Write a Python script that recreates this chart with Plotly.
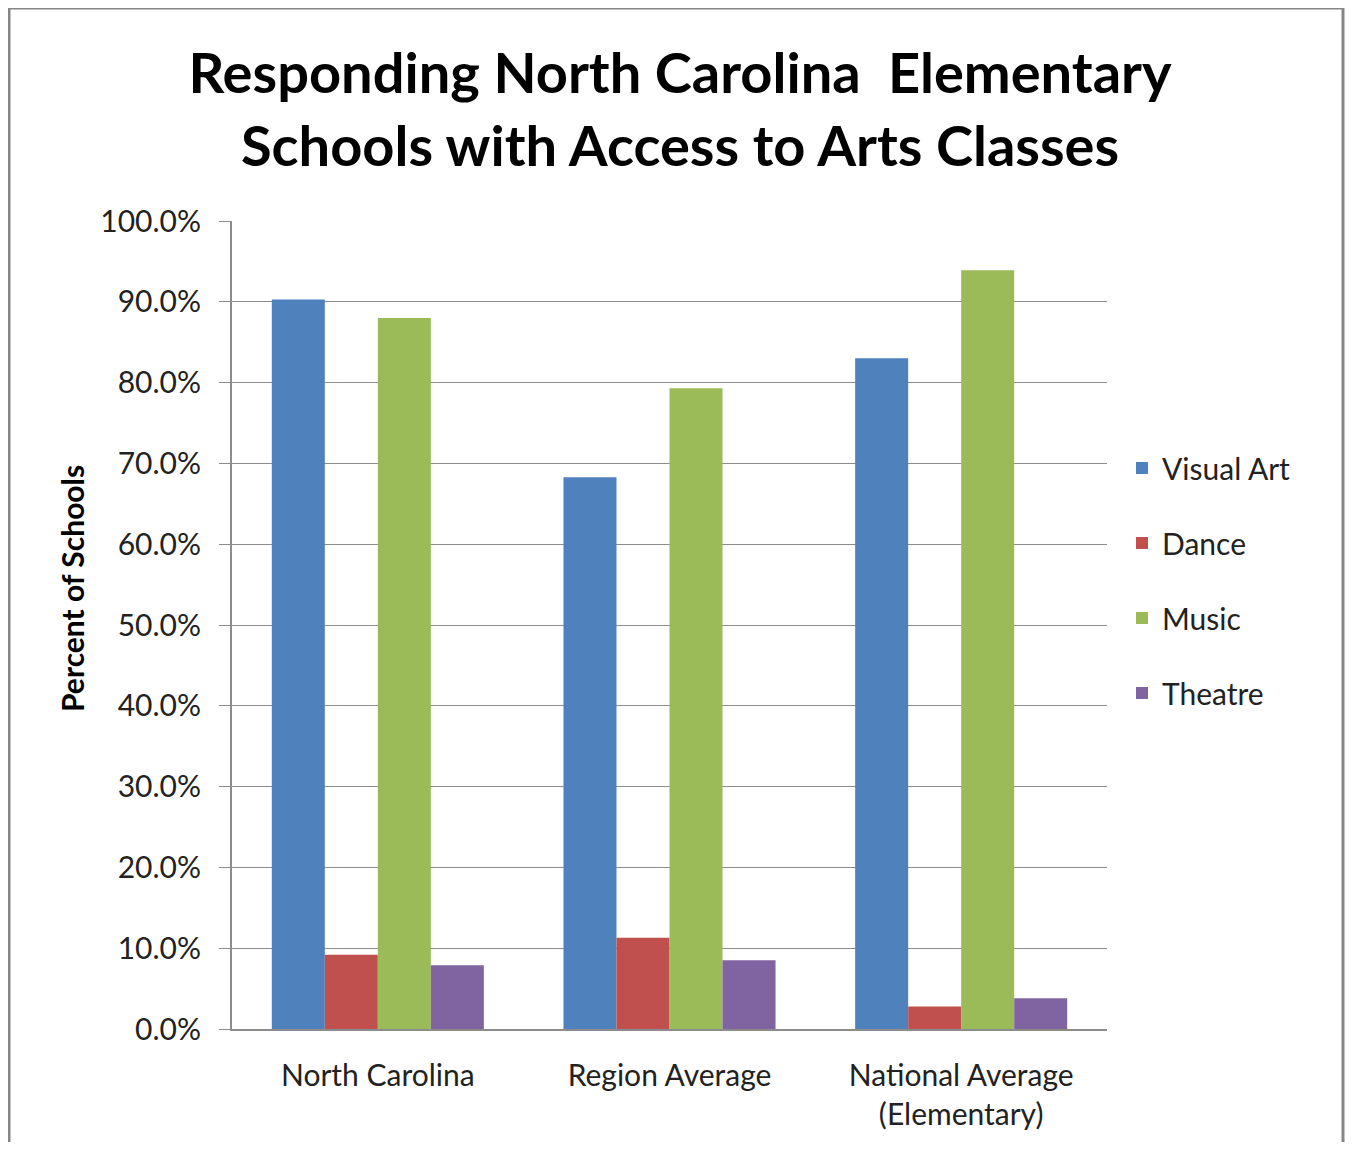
import plotly.graph_objects as go

categories = ["North Carolina", "Region Average", "National Average<br>(Elementary)"]
visual_art = [0.903, 0.683, 0.830]
dance = [0.092, 0.113, 0.028]
music = [0.880, 0.793, 0.939]
theatre = [0.079, 0.085, 0.038]

series = [
    ("Visual Art", visual_art, "#4F81BD"),
    ("Dance", dance, "#C0504D"),
    ("Music", music, "#9BBB59"),
    ("Theatre", theatre, "#8064A2"),
]

font = "Lato, Open Sans, sans-serif"

fig = go.Figure()
for name, vals, col in series:
    fig.add_trace(go.Bar(x=categories, y=vals, name=name, legendgroup=name,
                         marker=dict(color=col, line=dict(width=0))))

# page body has an 8px margin, so target px are shifted by 8
OFF = 8
W, H = 1353 - 2 * OFF, 1150 - 2 * OFF
L, R, T, B = 232 - OFF, 1107 - OFF, 221 - OFF, 1029 - OFF

def px_x(p):
    return (p - OFF - L) / (R - L)

def px_y(p):
    return (B - (p - OFF)) / (B - T)

fig.update_layout(
    width=W, height=H,
    margin=dict(l=L, r=W - R, t=T, b=H - B),
    paper_bgcolor="white", plot_bgcolor="white",
    barmode="group", bargap=0.273, bargroupgap=0,
    font=dict(family=font, color="#222222"),
    title=dict(text="<b>Responding North Carolina  Elementary<br>Schools with Access to Arts Classes</b>",
               x=px_x(680), xref="paper", xanchor="center",
               y=1 - (93 - OFF) / H, yanchor="middle",
               font=dict(size=56, family=font, color="#000000")),
    legend=dict(x=px_x(1122), xref="paper", y=px_y(442), yanchor="top",
                font=dict(size=30, family=font, color="#222222"), tracegroupgap=33,
                itemwidth=30, bgcolor="rgba(0,0,0,0)"),
    xaxis=dict(showgrid=False, showline=True, linecolor="#8C8C8C", linewidth=2,
               tickfont=dict(size=30, family=font), ticks="", ticklabelstandoff=19),
    yaxis=dict(range=[0, 1], dtick=0.1, tickformat=".1%",
               showgrid=True, gridcolor="#8C8C8C", gridwidth=1,
               showline=True, linecolor="#8C8C8C", linewidth=2,
               ticks="outside", ticklen=11, tickcolor="#8C8C8C",
               tickfont=dict(size=30, family=font), zeroline=False,
               ticklabelstandoff=12),
)

fig.add_annotation(text="<b>Percent of Schools</b>", textangle=-90,
                   xref="paper", yref="paper", x=px_x(72), y=px_y(589),
                   xanchor="center", yanchor="middle", showarrow=False,
                   font=dict(size=30, family=font, color="#000000"))

# chart border
fig.add_shape(type="rect", xref="paper", yref="paper",
              x0=px_x(9), x1=px_x(1343), y0=px_y(1170), y1=px_y(8),
              line=dict(color="#868686", width=3), fillcolor="rgba(0,0,0,0)", layer="below")

fig.write_html("out.html")
